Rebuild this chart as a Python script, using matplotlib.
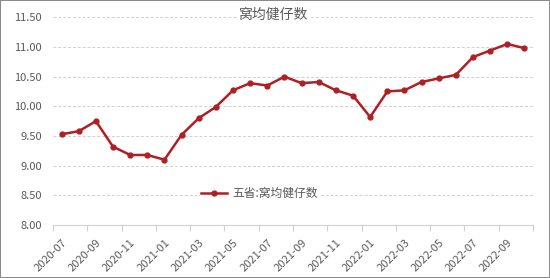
import matplotlib
matplotlib.use("Agg")
import matplotlib.pyplot as plt

plt.rcParams['font.family'] = ['Noto Sans CJK SC', 'DejaVu Sans']

# monthly data, 2020-07 .. 2022-10
months = ['2020-07', '2020-08', '2020-09', '2020-10', '2020-11', '2020-12',
          '2021-01', '2021-02', '2021-03', '2021-04', '2021-05', '2021-06',
          '2021-07', '2021-08', '2021-09', '2021-10', '2021-11', '2021-12',
          '2022-01', '2022-02', '2022-03', '2022-04', '2022-05', '2022-06',
          '2022-07', '2022-08', '2022-09', '2022-10']
values = [9.53, 9.58, 9.75, 9.32, 9.18, 9.18,
          9.10, 9.52, 9.80, 9.99, 10.27, 10.39,
          10.35, 10.50, 10.39, 10.41, 10.27, 10.18,
          9.82, 10.25, 10.27, 10.41, 10.47, 10.53,
          10.83, 10.94, 11.05, 10.98]
y_ticks = [8.00, 8.50, 9.00, 9.50, 10.00, 10.50, 11.00, 11.50]

title = '窝均健仔数'
series_name = '五省:窝均健仔数'

red = '#B01F24'
grey = '#595959'

fig = plt.figure(figsize=(5.5, 2.78), dpi=100, edgecolor='#8a8a8a', linewidth=1.2)
ax = fig.add_axes([0.0964, 0.1906, 0.8727, 0.7472])

x = list(range(len(months)))
line, = ax.plot(x, values, color=red, linewidth=1.8, marker='o', markersize=3.5,
                label=series_name, zorder=3)

ax.set_xlim(-0.5, len(months) - 0.5)
ax.set_ylim(8.0, 11.5)
ax.set_yticks(y_ticks)
ax.set_yticklabels(['%.2f' % v for v in y_ticks], fontsize=8, color=grey)
ax.tick_params(axis='y', length=0, pad=8)
ax.grid(axis='y', color='#d0d0d0', linestyle=(0, (3, 2)), linewidth=0.7)

# category labels every two months, tick marks between categories
ax.set_xticks(x[::2])
ax.set_xticklabels(months[::2], rotation=45, ha='right', rotation_mode='anchor',
                   fontsize=8, color=grey)
ax.tick_params(axis='x', which='major', length=0, pad=9)
ax.set_xticks([i - 0.5 for i in range(0, len(months) + 1, 2)], minor=True)
ax.tick_params(axis='x', which='minor', length=4, color='#d0d0d0', width=0.8)

for s in ['top', 'right', 'left']:
    ax.spines[s].set_visible(False)
ax.spines['bottom'].set_color('#d0d0d0')
ax.spines['bottom'].set_linewidth(0.8)

fig.text(0.498, 0.945, title, ha='center', va='center', fontsize=10, color=grey,
         bbox=dict(facecolor='white', edgecolor='none', pad=1))

leg = ax.legend(loc='center', bbox_to_anchor=(0.43, 0.15), frameon=True,
                fontsize=8.5, handlelength=2.2, borderpad=0.1, handletextpad=0.4)
leg.get_frame().set_edgecolor('none')
leg.get_frame().set_facecolor('white')
leg.get_frame().set_alpha(1)
for t in leg.get_texts():
    t.set_color(grey)

fig.savefig('out.png', dpi=100)
